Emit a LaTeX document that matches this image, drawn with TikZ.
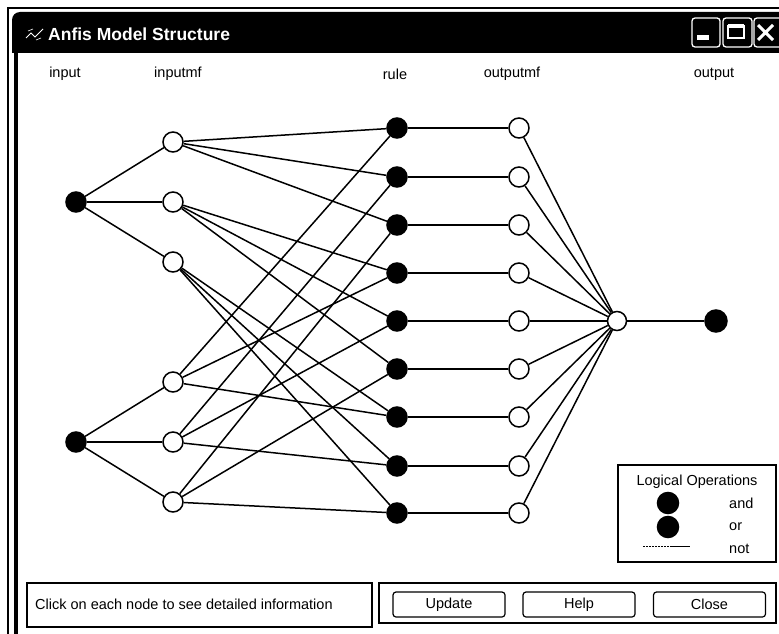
\documentclass[tikz,border=0pt]{standalone}
\usepackage{fontspec}
\setmainfont{Liberation Sans}
\usetikzlibrary{calc}
\begin{document}
\begin{tikzpicture}[x=1pt,y=-1pt,
  wire/.style={line width=1.5pt},
  fnode/.style={circle,draw,line width=1.5pt,fill=black,minimum size=20pt,inner sep=0pt},
  onode/.style={circle,draw,line width=1.5pt,fill=white,minimum size=20pt,inner sep=0pt},
  lbl/.style={font=\fontsize{14.5}{16}\selectfont,inner sep=0pt},
  btn/.style={draw,line width=1.2pt,rounded corners=3pt,minimum width=112pt,minimum height=25pt,
    font=\fontsize{14.5}{16}\selectfont},
  winbtn/.style={draw=white,line width=1.3pt,fill=black,rounded corners=3pt}
]
\useasboundingbox (0,0) rectangle (779,634);
\clip (0,0) rectangle (779,634);

% window frame and title bar
\draw[line width=1.4pt] (8,634) -- (8,8) -- (779,8);
\fill (12,53) [rounded corners=8pt] -- (12,12) [sharp corners] -- (790,12) -- (790,53) -- cycle;
\fill (14,53) rectangle (18,634);
\draw[white,line width=0.8pt] (26,38) -- (31,33) -- (35,37) -- (43,29);
\draw[white,line width=0.6pt] (28,31) -- (33,29) (36,40) -- (41,38);
\node[anchor=west,text=white,font=\bfseries\fontsize{17.5}{20}\selectfont,inner sep=0pt]
  (title) at (48,34) {Anfis Model Structure};

% minimise, maximise, close
\draw[winbtn] (692,18) rectangle (720,47);
\fill[white] (697,35) rectangle (709,40);
\draw[winbtn] (723,18) rectangle (752,47);
\draw[white,line width=1.3pt] (728,26) rectangle (744,38);
\fill[white] (728,24) rectangle (744,28);
\draw[winbtn] (754,18) rectangle (786,47);
\draw[white,line width=3pt] (758,25) -- (773,40) (773,25) -- (758,40);

% layer titles
\node[lbl] (tin)   at (65,74)  {input};
\node[lbl] (tmf)   at (178,74) {inputmf};
\node[lbl] (trule) at (395,74) {rule};
\node[lbl] (tomf)  at (512,74) {outputmf};
\node[lbl] (tout)  at (714,74) {output};

% input layer
\node[fnode] (in1) at (76,202) {};
\node[fnode] (in2) at (76,442) {};

% input membership functions
\foreach \i/\y in {1/142,2/202,3/262,4/382,5/442,6/502}
  \node[onode] (m\i) at (173,\y) {};

% rules and output membership functions
\foreach \k/\y in {1/128,2/177,3/225,4/273,5/321,6/369,7/417,8/466,9/513}{
  \node[fnode] (r\k) at (397,\y) {};
  \node[onode] (o\k) at (519,\y) {};
}

% aggregation and output
\node[onode,minimum size=19pt] (sum) at (617,321) {};
\node[fnode,minimum size=22pt] (out) at (716,321) {};

% connections
\foreach \i in {1,2,3} \draw[wire] (in1) -- (m\i);
\foreach \i in {4,5,6} \draw[wire] (in2) -- (m\i);
\foreach \k/\a/\b in {1/1/4,2/1/5,3/1/6,4/2/4,5/2/5,6/2/6,7/3/4,8/3/5,9/3/6}{
  \draw[wire] (m\a) -- (r\k);
  \draw[wire] (m\b) -- (r\k);
  \draw[wire] (r\k) -- (o\k);
  \draw[wire] (o\k) -- (sum);
}
\draw[wire] (sum) -- (out);

% legend
\draw[line width=1.4pt] (618,465) rectangle (776,562);
\node[lbl] (lgt) at (697,482) {Logical Operations};
\node[fnode,minimum size=21pt] (land) at (668,503) {};
\node[fnode,minimum size=21pt] (lor)  at (668,527) {};
\coordinate (nota) at (643,546);
\coordinate (notb) at (690,546);
\coordinate (notm) at ($(nota)!0.6!(notb)$);
\draw[line width=0.7pt,dash pattern=on 2pt off 1pt] (nota) -- (notm);
\draw[line width=0.7pt] (notm) -- (notb);
\node[lbl,anchor=west] (tand) at (729,503) {and};
\node[lbl,anchor=west] (tor)  at (729,527) {or};
\node[lbl,anchor=west] (tnot) at (729,549) {not};

% status line and buttons
\draw[line width=1.5pt] (27,583) rectangle (372,627);
\node[lbl,anchor=west] (status) at (35,604) {Click on each node to see detailed information};
\draw[line width=1.5pt] (379,583) rectangle (776,623);
\node[btn] (bupd)   at (449,604.5) {Update};
\node[btn] (bhelp)  at (579,604.5) {Help};
\node[btn] (bclose) at (709.5,604.5) {Close};
\end{tikzpicture}
\end{document}
